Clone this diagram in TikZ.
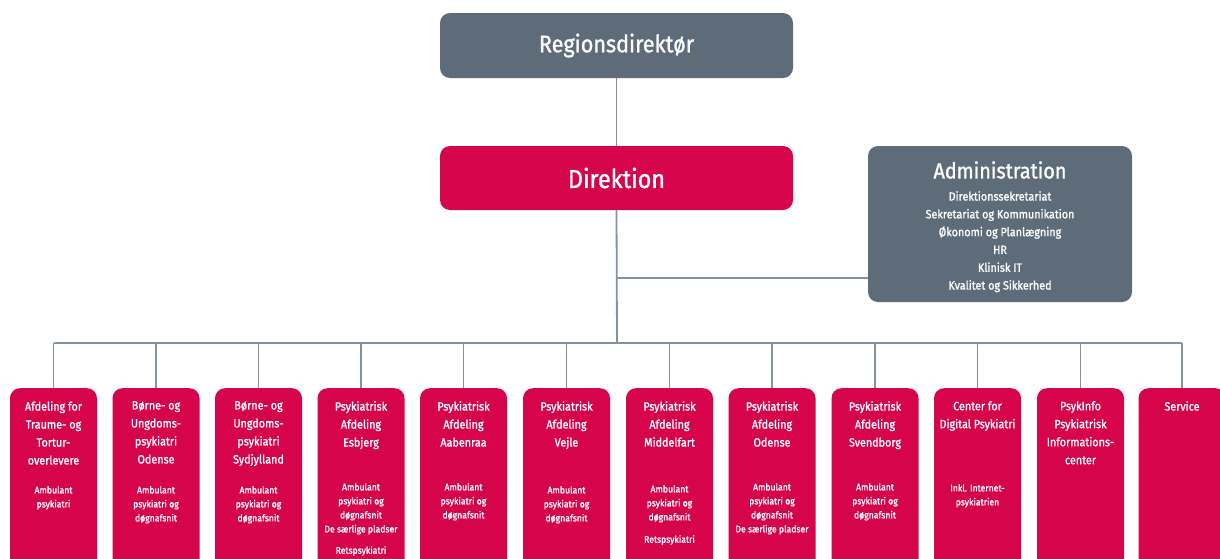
\documentclass[tikz,border=0pt]{standalone}
\usepackage{fontspec}
\setmainfont{Fira Sans}[FakeStretch=0.9, FakeBold=1.2]
\definecolor{adgray}{HTML}{5E6C7A}
\definecolor{crim}{HTML}{D5044B}
\definecolor{lineg}{HTML}{8593A0}
\begin{document}
\begin{tikzpicture}[x=1pt,y=-1pt,
  gbox/.style={fill=adgray, rounded corners=10pt, inner sep=0pt, text=white},
  rbox/.style={fill=crim, rounded corners=10pt, inner sep=0pt, text=white},
  conn/.style={draw=lineg, line width=1.8pt},
  ttl/.style={text=white, inner sep=0pt, align=center, anchor=north, font=\fontsize{12}{18}\selectfont},
  sub/.style={text=white, inner sep=0pt, align=center, anchor=north, font=\fontsize{9.6}{14}\selectfont},
  adl/.style={text=white, inner sep=0pt, align=center, anchor=north, font=\fontsize{12}{17.8}\selectfont}]
\useasboundingbox (0,0) rectangle (1220,558);
\clip (0,0) rectangle (1220,558);
\coordinate (bus) at (617,343);
\coordinate (ja) at (617,278);
% top boxes
\node[gbox, minimum width=353pt, minimum height=65pt, font=\fontsize{24}{24}\selectfont] (reg) at (616.5,45.5) {Regionsdirektør};
\node[rbox, minimum width=353pt, minimum height=64pt, font=\fontsize{26}{26}\selectfont] (dir) at (616.5,178) {Direktion};
\node[gbox, minimum width=264pt, minimum height=156pt] (adm) at (1000,224) {};
\node[text=white, inner sep=0pt, font=\fontsize{22}{22}\selectfont] (admt) at (1000,170) {Administration};
\node[adl] (adml) at (1000,191) {Direktionssekretariat\\Sekretariat og Kommunikation\\Økonomi og Planlægning\\HR\\Klinisk IT\\Kvalitet og Sikkerhed};
% bottom boxes
\foreach \i/\x in {1/53.5,2/156,3/258.5,4/361,5/463.5,6/566.5,7/669.5,8/772,9/875,10/977.5,11/1080.5,12/1182}{
  \node[rbox, anchor=north, minimum width=87pt, minimum height=200pt] (b\i) at (\x,388) {};
}
% connectors
\draw[conn] (reg.south) -- (dir.north);
\draw[conn] (dir.south) -- (bus);
\draw[conn] (ja) -- (ja -| adm.west);
\draw[conn] (b1.north |- bus) -- (b12.north |- bus);
\foreach \i in {1,...,12}{
  \draw[conn] (b\i.north |- bus) -- (b\i.north);
}
% texts
\node[ttl] (t1) at (53.5,401) {Afdeling for\\Traume- og\\Tortur-\\overlevere};
\node[sub] (s1) at (53.5,486) {Ambulant\\psykiatri};
\node[ttl] (t2) at (156,401) {Børne- og\\Ungdoms-\\psykiatri\\Odense};
\node[sub] (s2) at (156,486) {Ambulant\\psykiatri og\\døgnafsnit};
\node[ttl] (t3) at (258.5,401) {Børne- og\\Ungdoms-\\psykiatri\\Sydjylland};
\node[sub] (s3) at (258.5,486) {Ambulant\\psykiatri og\\døgnafsnit};
\node[ttl] (t4) at (361,401) {Psykiatrisk\\Afdeling\\Esbjerg};
\node[sub] (s4) at (361,483) {Ambulant\\psykiatri og\\døgnafsnit\\De særlige pladser};
\node[sub] (r4) at (361,546) {Retspsykiatri};
\node[ttl] (t5) at (463.5,401) {Psykiatrisk\\Afdeling\\Aabenraa};
\node[sub] (s5) at (463.5,483) {Ambulant\\psykiatri og\\døgnafsnit};
\node[ttl] (t6) at (566.5,401) {Psykiatrisk\\Afdeling\\Vejle};
\node[sub] (s6) at (566.5,486) {Ambulant\\psykiatri og\\døgnafsnit};
\node[ttl] (t7) at (669.5,401) {Psykiatrisk\\Afdeling\\Middelfart};
\node[sub] (s7) at (669.5,485) {Ambulant\\psykiatri og\\døgnafsnit};
\node[sub] (r7) at (669.5,535) {Retspsykiatri};
\node[ttl] (t8) at (772,401) {Psykiatrisk\\Afdeling\\Odense};
\node[sub] (s8) at (772,483) {Ambulant\\psykiatri og\\døgnafsnit\\De særlige pladser};
\node[ttl] (t9) at (875,401) {Psykiatrisk\\Afdeling\\Svendborg};
\node[sub] (s9) at (875,483) {Ambulant\\psykiatri og\\døgnafsnit};
\node[ttl] (t10) at (977.5,401) {Center for\\Digital Psykiatri};
\node[sub] (s10) at (977.5,484) {Inkl. Internet-\\psykiatrien};
\node[ttl] (t11) at (1080.5,401) {PsykInfo\\Psykiatrisk\\Informations-\\center};
\node[ttl] (t12) at (1182,401) {Service};
\end{tikzpicture}
\end{document}
